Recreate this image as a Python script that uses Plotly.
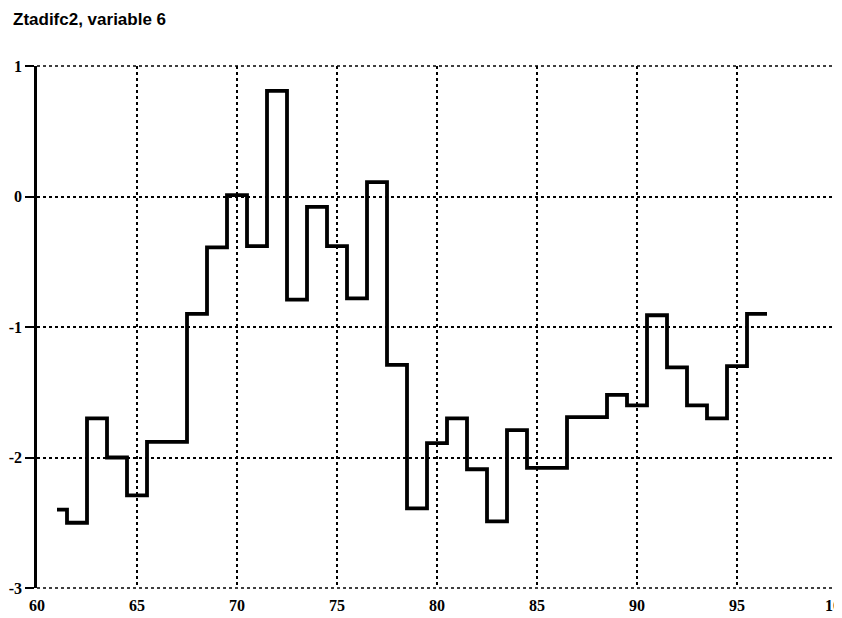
import plotly.graph_objects as go

years = list(range(61, 97))
values = [-2.40, -2.50, -1.70, -2.00, -2.29, -1.88, -1.88, -0.90, -0.39, 0.01,
          -0.38, 0.81, -0.79, -0.08, -0.38, -0.78, 0.11, -1.29, -2.39, -1.89,
          -1.70, -2.09, -2.49, -1.79, -2.08, -2.08, -1.69, -1.69, -1.52, -1.60,
          -0.91, -1.31, -1.60, -1.70, -1.30, -0.90]
x_ticks = [60, 65, 70, 75, 80, 85, 90, 95, 100]
x_tick_labels = ["60", "65", "70", "75", "80", "85", "90", "95", "100"]
y_ticks = [-3, -2, -1, 0, 1]
y_tick_labels = ["-3", "-2", "-1", "0", "1"]
title_text = "Ztadifc2, variable 6"

# step edges: series starts at first year, then each value spans year-0.5 .. year+0.5
edges = [years[0]] + [y + 0.5 for y in years]
step_y = values + [values[-1]]

fig = go.Figure()
fig.add_trace(go.Scatter(x=edges, y=step_y, mode="lines",
                         line=dict(shape="hv", color="black", width=3.8),
                         showlegend=False, hoverinfo="skip"))

tick_font = dict(family="Liberation Serif", size=16, color="black", weight="bold")
grid_style = dict(color="black", width=1.5, dash="dot")

# dotted frame on top, right and bottom edges
for x0, y0, x1, y1 in [(0, 1, 1, 1), (1, 0, 1, 1), (0, 0, 1, 0)]:
    fig.add_shape(type="line", xref="x domain", yref="y domain",
                  x0=x0, y0=y0, x1=x1, y1=y1, line=grid_style, layer="below")

# page body has an 8px margin, so the figure is sized to fit the window
W, H = 834, 610
fig.update_layout(
    width=W, height=H,
    margin=dict(l=29, r=5, t=58, b=30, autoexpand=False),
    paper_bgcolor="white", plot_bgcolor="white",
    title=dict(text=title_text, x=5 / W, xanchor="left", y=1 - 5 / H, yanchor="top",
               font=dict(family="Liberation Sans", size=17, color="black", weight="bold")),
    xaxis=dict(range=[60, 100], tickvals=x_ticks, ticktext=x_tick_labels,
               showgrid=True, gridcolor="black", griddash="dot", gridwidth=1.5,
               zeroline=False, showline=False, ticks="", tickfont=tick_font,
               ticklabelstandoff=6, automargin=False, ticklabeloverflow="allow"),
    yaxis=dict(range=[-3, 1], tickvals=y_ticks, ticktext=y_tick_labels,
               showgrid=True, gridcolor="black", griddash="dot", gridwidth=1.5,
               zeroline=False, showline=True, linecolor="black", linewidth=2.5,
               ticks="outside", ticklen=9, tickwidth=1.5, tickcolor="black",
               tickfont=tick_font, ticklabelstandoff=0, automargin=False),
)

fig.write_html("out.html")
